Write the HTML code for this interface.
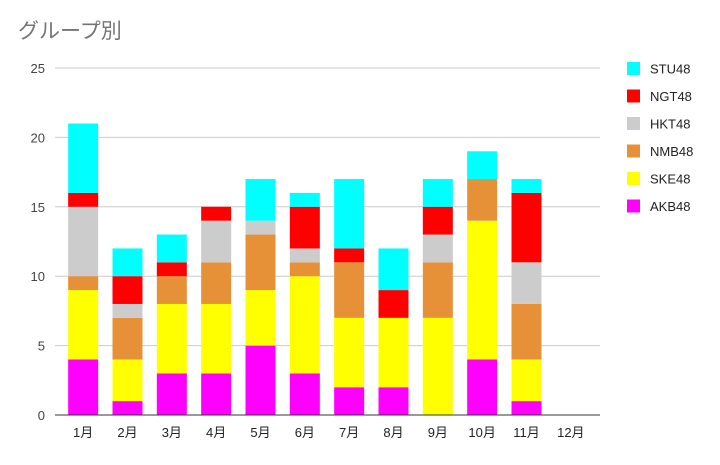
<!DOCTYPE html>
<html><head><meta charset="utf-8"><style>
body{margin:0;background:#fff;font-family:"Liberation Sans","Noto Sans CJK JP",sans-serif;}
svg text{font-family:"Liberation Sans","Noto Sans CJK JP",sans-serif;}
</style></head><body>
<svg id="chart" width="720" height="460" xmlns="http://www.w3.org/2000/svg">
<rect width="720" height="460" fill="#fff"/>
<text x="18" y="38" font-size="21" fill="#757575">グループ別</text>
<g id="grid"></g><g id="bars"></g><g id="axes"></g><g id="legend"></g>
</svg>
<script>
const categories=["1月","2月","3月","4月","5月","6月","7月","8月","9月","10月","11月","12月"];
const seriesNames=["AKB48","SKE48","NMB48","HKT48","NGT48","STU48"];
const AKB=[4,1,3,3,5,3,2,2,0,4,1,0];
const SKE=[5,3,5,5,4,7,5,5,7,10,3,0];
const NMB=[1,3,2,3,4,1,4,0,4,3,4,0];
const HKT=[5,1,0,3,1,1,0,0,2,0,3,0];
const NGT=[1,2,1,1,0,3,1,2,2,0,5,0];
const STU=[5,2,2,0,3,1,5,3,2,2,1,0];
const yTicks=[0,5,10,15,20,25];
const colors=["#ff00ff","#ffff00","#e69138","#cccccc","#ff0000","#00ffff"];
const series=[AKB,SKE,NMB,HKT,NGT,STU];
const NS="http://www.w3.org/2000/svg";
const x0=61,x1=593,y0=415,y1=68,yMax=25;
const step=(x1-x0)/categories.length,bw=30;
const y=v=>y0-(v/yMax)*(y0-y1);
const xc=i=>x0+step*(i+0.5);
function mk(t,a,p){const e=document.createElementNS(NS,t);for(const k in a)e.setAttribute(k,a[k]);p.appendChild(e);return e;}
const g=document.getElementById('grid');
yTicks.forEach(t=>{
 if(t>0){const l=mk('line',{x1:55,x2:600,y1:y(t),y2:y(t),stroke:'#cccccc','stroke-width':1},g);
 
 }
 const tx=mk('text',{x:45,y:y(t)+5,'text-anchor':'end','font-size':13,fill:'#444'},g);tx.textContent=t;
 
 
});
const b=document.getElementById('bars');
categories.forEach((c,i)=>{
 let acc=0;
 series.forEach((s,k)=>{
  const v=s[i];if(v<=0)return;
  const r=mk('rect',{x:xc(i)-bw/2,y:y(acc+v),width:bw,height:y(acc)-y(acc+v),fill:colors[k]},b);
  
  
  acc+=v;
 });
 const tx=mk('text',{x:xc(i),y:437,'text-anchor':'middle','font-size':13,fill:'#222'},b);tx.textContent=c;
 
 
});
const ax=mk('line',{x1:55,x2:600,y1:y0,y2:y0,stroke:'#333','stroke-width':1},document.getElementById('axes'));


const lg=document.getElementById('legend');
const order=[5,4,3,2,1,0];
order.forEach((k,j)=>{
 const yy=62+j*27.5;
 const r=mk('rect',{x:627,y:yy,width:13,height:13,fill:colors[k]},lg);
 
 
 const t=mk('text',{x:650,y:yy+11.5,'font-size':13,fill:'#222'},lg);t.textContent=seriesNames[k];
 
 
});
</script>
</body></html>
